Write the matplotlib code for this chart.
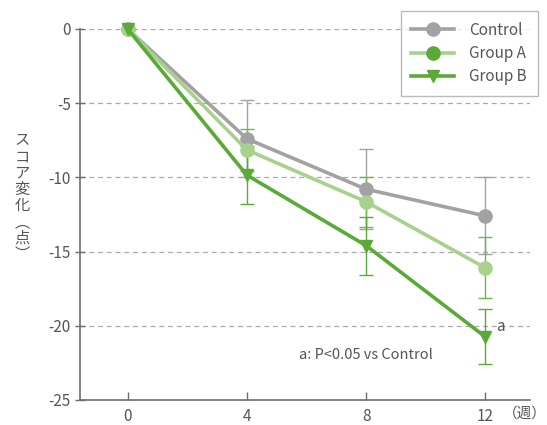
import matplotlib
matplotlib.use("Agg")
import matplotlib.pyplot as plt
from matplotlib.lines import Line2D

plt.rcParams.update({
    "font.family": ["Noto Sans CJK JP", "DejaVu Sans"],
    "font.size": 10.5,
    "axes.unicode_minus": False,
})

weeks = [0, 4, 8, 12]
control_mean = [0, -7.4, -10.8, -12.6]
control_sd = [0, 2.6, 2.7, 2.6]
group_a_mean = [0, -8.15, -11.65, -16.1]
group_a_sd = [0, 1.4, 1.7, 2.05]
group_b_mean = [0, -9.85, -14.6, -20.75]
group_b_sd = [0, 1.95, 1.95, 1.85]

yticks = [0, -5, -10, -15, -20, -25]

c_ctrl = "#a2a2a2"
c_a = "#a9d18e"
c_a_err = "#6cb84a"
c_b = "#5aaa38"
txt = "#555555"

fig = plt.figure(figsize=(5.47, 4.25), dpi=100)
ax = fig.add_axes([0.146, 0.059, 0.823, 0.873])

ax.set_xlim(-1.6, 13.5)
ax.set_ylim(-25, 0)
ax.set_yticks(yticks)
ax.set_xticks(weeks)

for y in yticks[:-1]:
    ax.axhline(y, color="#aaaaaa", linestyle=(0, (4, 3)), linewidth=0.9, zorder=0)

# error bars (skip the zero-width one at week 0)
ax.errorbar(weeks[1:], control_mean[1:], yerr=control_sd[1:], fmt="none",
            ecolor=c_ctrl, elinewidth=1.0, capsize=5, capthick=1.0, zorder=2)
ax.errorbar(weeks[1:], group_a_mean[1:], yerr=group_a_sd[1:], fmt="none",
            ecolor=c_a_err, elinewidth=1.0, capsize=5, capthick=1.0, zorder=2)
ax.errorbar(weeks[1:], group_b_mean[1:], yerr=group_b_sd[1:], fmt="none",
            ecolor=c_b, elinewidth=1.0, capsize=5, capthick=1.0, zorder=2)

ax.plot(weeks, control_mean, color=c_ctrl, lw=2.6, marker="o", ms=9.5,
        zorder=3, clip_on=False)
ax.plot(weeks, group_a_mean, color=c_a, lw=2.6, marker="o", ms=9.5,
        zorder=4, clip_on=False)
ax.plot(weeks, group_b_mean, color=c_b, lw=2.6, marker="v", ms=9,
        zorder=5, clip_on=False)

ax.annotate("a", (weeks[-1], group_b_mean[-1]), xytext=(8, 1),
            textcoords="offset points", ha="left", va="bottom",
            fontsize=11, color=txt)
ax.text(8, -22, "a: P<0.05 vs Control", ha="center", va="center",
        fontsize=10.5, color=txt)

for s in ("top", "right"):
    ax.spines[s].set_visible(False)
for s in ("left", "bottom"):
    ax.spines[s].set_color("#6e6e6e")
    ax.spines[s].set_linewidth(1.2)

ax.tick_params(axis="y", direction="inout", length=7, width=1, color="#6e6e6e",
               labelcolor=txt, labelsize=11, pad=3)
ax.tick_params(axis="x", direction="in", length=6, width=1, color="#6e6e6e",
               labelcolor=txt, labelsize=11, pad=6)

ax.text(0.989, -0.036, "（週）", transform=ax.transAxes, ha="center",
        va="center", fontsize=10.5, color=txt)

fig.text(0.040, 0.535, "ス\nコ\nア\n変\n化\n︵\n点\n︶", ha="center", va="center",
         fontsize=11, color=txt, linespacing=0.95)

handles = [
    Line2D([], [], color=c_ctrl, lw=2.6, marker="o", ms=9.5),
    Line2D([], [], color=c_a, lw=2.6, marker="o", ms=9.5,
           markerfacecolor=c_b, markeredgecolor=c_b),
    Line2D([], [], color=c_b, lw=2.6, marker="v", ms=9),
]
leg = fig.legend(handles, ["Control", "Group A", "Group B"],
                 loc="upper right", bbox_to_anchor=(0.983, 0.974),
                 fontsize=11, frameon=True, fancybox=False,
                 handlelength=2.8, borderpad=0.7, labelspacing=0.4,
                 handletextpad=1.0, borderaxespad=0.0)
leg.get_frame().set_edgecolor("#aaaaaa")
leg.get_frame().set_linewidth(1.0)
for t in leg.get_texts():
    t.set_color(txt)

fig.savefig("out.png", dpi=100)
